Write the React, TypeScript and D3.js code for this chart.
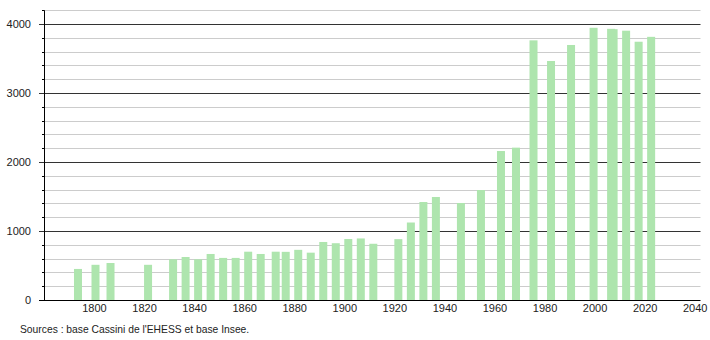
import React from "react";
import * as d3 from "d3";

const years = [1793, 1800, 1806, 1821, 1831, 1836, 1841, 1846, 1851, 1856, 1861, 1866, 1872, 1876, 1881, 1886, 1891, 1896, 1901, 1906, 1911, 1921, 1926, 1931, 1936, 1946, 1954, 1962, 1968, 1975, 1982, 1990, 1999, 2006, 2007, 2012, 2017, 2022];
const population = [450, 510, 536, 510, 590, 623, 590, 667, 610, 610, 700, 667, 700, 698, 727, 686, 841, 823, 884, 892, 815, 882, 1123, 1420, 1493, 1406, 1594, 2159, 2208, 3763, 3464, 3696, 3945, 3930, 3925, 3903, 3743, 3814];
const xTickYears = [1800, 1820, 1840, 1860, 1880, 1900, 1920, 1940, 1960, 1980, 2000, 2020, 2040];
const yMajorTicks = [0, 1000, 2000, 3000, 4000];
const yMinorTicks = d3.range(200, 4201, 200).filter((v) => v % 1000 !== 0);
const sourceText = "Sources : base Cassini de l'EHESS et base Insee.";

const W = 710;
const H = 340;
const axisLeft = 44;
const axisRight = 700.5;
const font = "'Liberation Sans', Arial, sans-serif";

export default function App() {
  const x = d3.scaleLinear().domain([1800, 2040]).range([95.5, 696.2]);
  const y = d3.scaleLinear().domain([0, 4200]).range([300, 10.2]);
  const barW = 8;

  return (
    <svg
      width={W}
      height={H}
      style={{ position: "absolute", left: 0, top: 0, background: "#fff" }}
    >
      <rect x={0} y={0} width={W} height={H} fill="#fff" />
      {yMinorTicks.map((v) => (
        <line
          key={"mn" + v}
          x1={axisLeft}
          x2={axisRight}
          y1={Math.round(y(v)) + 0.5}
          y2={Math.round(y(v)) + 0.5}
          stroke="#cccccc"
          strokeWidth={1}
        />
      ))}
      {yMinorTicks.map((v) => (
        <line
          key={"mt" + v}
          x1={axisLeft - 2}
          x2={axisLeft}
          y1={Math.round(y(v)) + 0.5}
          y2={Math.round(y(v)) + 0.5}
          stroke="#000"
          strokeWidth={1}
        />
      ))}
      {yMajorTicks.filter((v) => v > 0).map((v) => (
        <line
          key={"mj" + v}
          x1={axisLeft - 5}
          x2={axisRight}
          y1={Math.round(y(v)) + 0.5}
          y2={Math.round(y(v)) + 0.5}
          stroke="#333333"
          strokeWidth={1}
        />
      ))}
      {years.map((yr, i) => (
        <rect
          key={"b" + yr}
          x={x(yr) - barW / 2}
          y={y(population[i])}
          width={barW}
          height={y(0) - y(population[i])}
          fill="#aee5ae"
        />
      ))}
      <line x1={axisLeft + 0.5} x2={axisLeft + 0.5} y1={y(4200)} y2={300.5} stroke="#000" strokeWidth={1} />
      <line x1={axisLeft - 5} x2={axisRight} y1={300.5} y2={300.5} stroke="#000" strokeWidth={1} />
      {yMajorTicks.map((v) => (
        <text
          key={"yl" + v}
          x={31}
          y={y(v) + 4}
          textAnchor="end"
          fontFamily={font}
          fontSize={11}
          fill="#222"
        >
          {v}
        </text>
      ))}
      {xTickYears.map((yr) => (
        <text
          key={"xl" + yr}
          x={x(yr) - 1}
          y={312}
          textAnchor="middle"
          fontFamily={font}
          fontSize={11}
          fill="#222"
        >
          {yr}
        </text>
      ))}
      <text x={20} y={333} fontFamily={font} fontSize={10.3} fill="#222">
        {sourceText}
      </text>
    </svg>
  );
}
